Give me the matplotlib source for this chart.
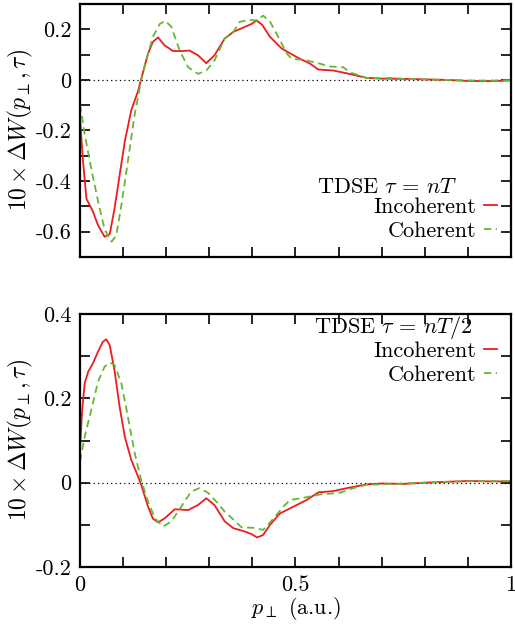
import matplotlib
matplotlib.use("Agg")
import matplotlib.pyplot as plt

plt.rcParams["font.family"] = ["serif"]
plt.rcParams["font.serif"] = ["cmr10", "DejaVu Serif"]
plt.rcParams["mathtext.fontset"] = "cm"
plt.rcParams["axes.unicode_minus"] = False

# upper panel, tau = nT
p_inc_a = [0.0, 0.007, 0.015, 0.030, 0.042, 0.057, 0.069, 0.080, 0.092, 0.104, 0.119, 0.135,
           0.142, 0.158, 0.169, 0.181, 0.196, 0.216, 0.235, 0.254, 0.274, 0.293, 0.312, 0.336,
           0.356, 0.383, 0.398, 0.410, 0.423, 0.441, 0.468, 0.503, 0.534, 0.553, 0.588, 0.619,
           0.665, 0.70, 0.75, 0.80, 0.85, 0.90, 0.95, 1.0]
w_inc_a = [-0.15, -0.32, -0.47, -0.52, -0.575, -0.62, -0.61, -0.51, -0.376, -0.243, -0.12, -0.043,
           0.004, 0.104, 0.15, 0.168, 0.137, 0.114, 0.114, 0.116, 0.097, 0.066, 0.097, 0.164,
           0.19, 0.21, 0.221, 0.235, 0.217, 0.17, 0.124, 0.09, 0.064, 0.041, 0.037, 0.026,
           0.008, 0.005, 0.004, 0.002, 0.0, -0.004, -0.005, -0.002]
p_coh_a = [0.0, 0.011, 0.026, 0.042, 0.057, 0.073, 0.084, 0.096, 0.111, 0.127, 0.142, 0.158,
           0.169, 0.185, 0.198, 0.212, 0.231, 0.251, 0.274, 0.293, 0.312, 0.336, 0.356, 0.371,
           0.394, 0.410, 0.425, 0.441, 0.46, 0.48, 0.491, 0.526, 0.557, 0.58, 0.611, 0.626,
           0.665, 0.70, 0.72, 0.76, 0.80, 0.85, 0.90, 0.95, 1.0]
w_coh_a = [-0.096, -0.215, -0.35, -0.48, -0.59, -0.64, -0.616, -0.496, -0.323, -0.136, 0.0, 0.104,
           0.17, 0.221, 0.233, 0.21, 0.117, 0.05, 0.024, 0.037, 0.077, 0.164, 0.19, 0.23,
           0.237, 0.235, 0.254, 0.23, 0.17, 0.104, 0.084, 0.077, 0.064, 0.053, 0.05, 0.03,
           0.008, 0.006, 0.008, 0.003, 0.002, 0.0, -0.002, -0.003, -0.001]

# lower panel, tau = nT/2
p_inc_b = [0.0, 0.005, 0.011, 0.019, 0.030, 0.042, 0.053, 0.061, 0.069, 0.080, 0.092, 0.104,
           0.119, 0.135, 0.142, 0.158, 0.169, 0.181, 0.196, 0.220, 0.251, 0.274, 0.293, 0.312,
           0.336, 0.356, 0.383, 0.398, 0.411, 0.425, 0.441, 0.464, 0.495, 0.526, 0.553, 0.588,
           0.619, 0.665, 0.70, 0.75, 0.80, 0.85, 0.90, 0.95, 1.0]
w_inc_b = [0.075, 0.172, 0.236, 0.263, 0.283, 0.311, 0.334, 0.34, 0.326, 0.267, 0.18, 0.109,
           0.054, 0.014, -0.005, -0.057, -0.085, -0.094, -0.085, -0.063, -0.065, -0.053, -0.037, -0.053,
           -0.092, -0.108, -0.116, -0.122, -0.13, -0.124, -0.1, -0.073, -0.057, -0.041, -0.023, -0.02,
           -0.013, -0.004, -0.002, -0.003, 0.0, 0.002, 0.004, 0.003, 0.003]
p_coh_b = [0.0, 0.011, 0.026, 0.042, 0.057, 0.069, 0.080, 0.096, 0.111, 0.127, 0.142, 0.158,
           0.174, 0.193, 0.212, 0.235, 0.258, 0.277, 0.297, 0.320, 0.339, 0.348, 0.375, 0.402,
           0.425, 0.449, 0.472, 0.487, 0.518, 0.557, 0.603, 0.634, 0.665, 0.70, 0.75, 0.80,
           0.85, 0.90, 0.95, 1.0]
w_coh_b = [0.05, 0.109, 0.172, 0.24, 0.275, 0.285, 0.279, 0.236, 0.157, 0.07, 0.006, -0.045,
           -0.085, -0.104, -0.092, -0.057, -0.021, -0.013, -0.024, -0.049, -0.073, -0.08, -0.106, -0.107,
           -0.112, -0.085, -0.057, -0.041, -0.036, -0.028, -0.024, -0.013, -0.005, -0.004, -0.002, 0.0,
           0.002, 0.003, 0.004, 0.004]

x_ticks = [0.0, 0.1, 0.2, 0.3, 0.4, 0.5, 0.6, 0.7, 0.8, 0.9, 1.0]
x_labels = ["0", "", "", "", "", "0.5", "", "", "", "", "1"]
y_ticks_a = [-0.7, -0.6, -0.5, -0.4, -0.3, -0.2, -0.1, 0.0, 0.1, 0.2, 0.3]
y_labels_a = ["", "-0.6", "", "-0.4", "", "-0.2", "", "0", "", "0.2", ""]
y_ticks_b = [-0.2, -0.1, 0.0, 0.1, 0.2, 0.3, 0.4]
y_labels_b = ["-0.2", "", "0", "", "0.2", "", "0.4"]

red = "#ee1c1c"
green = "#66b832"
fs = 16

fig = plt.figure(figsize=(5.15, 6.25), dpi=100)
ax1 = fig.add_axes([0.1553, 0.5888, 0.8369, 0.4048])
ax2 = fig.add_axes([0.1553, 0.0928, 0.8369, 0.4048])

panels = [
    (ax1, p_inc_a, w_inc_a, p_coh_a, w_coh_a, y_ticks_a, y_labels_a, (-0.7, 0.3),
     r"TDSE $\tau\,=\,nT$", (0.876, 0.275), (0.968, 0.235)),
    (ax2, p_inc_b, w_inc_b, p_coh_b, w_coh_b, y_ticks_b, y_labels_b, (-0.2, 0.4),
     r"TDSE $\tau\,=\,nT/2$", (0.912, 0.945), (0.968, 0.893)),
]

for ax, pi, wi, pc, wc, yt, yl, ylim, title, tpos, lpos in panels:
    ax.axhline(0, color="black", lw=0.9, ls=(0, (1, 2.5)))
    ax.plot(pi, wi, color=red, lw=1.3, label="Incoherent")
    ax.plot(pc, wc, color=green, lw=1.3, ls=(0, (4, 2.5)), label="Coherent")
    ax.set_xlim(0, 1)
    ax.set_ylim(*ylim)
    ax.set_xticks(x_ticks)
    ax.set_yticks(yt)
    ax.set_yticklabels(yl)
    ax.tick_params(direction="in", length=7, width=1.2, top=True, right=True,
                   labelsize=fs, pad=6)
    for s in ax.spines.values():
        s.set_linewidth(1.6)
    ax.set_ylabel(r"$10\times\Delta W(p_\perp,\tau)$", fontsize=17)
    ax.yaxis.set_label_coords(-0.104, 0.5)
    ax.text(tpos[0], tpos[1], title, transform=ax.transAxes, ha="right", va="center",
            fontsize=fs)
    ax.legend(loc="upper right", bbox_to_anchor=lpos, frameon=False, markerfirst=False,
              fontsize=fs, handlelength=0.6, handletextpad=0.35, labelspacing=0.2,
              borderpad=0, borderaxespad=0)

ax1.set_xticklabels([])
ax2.set_xticklabels(x_labels)
ax2.set_xlabel(r"$p_\perp$ (a.u.)", fontsize=fs, labelpad=0)

fig.savefig("out.png", dpi=100)
